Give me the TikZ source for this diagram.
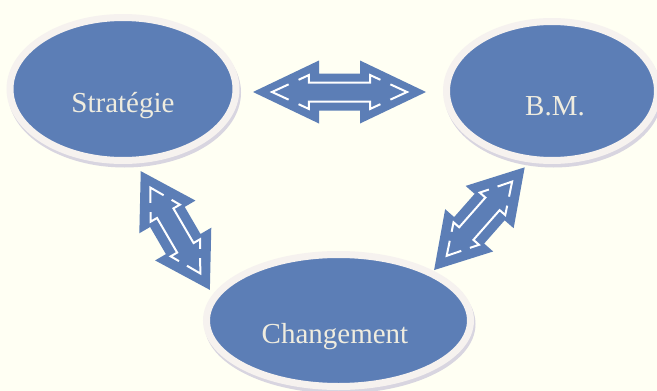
\documentclass[tikz,border=0pt]{standalone}
\usepackage{fontspec}
\setmainfont{Liberation Serif}
\usetikzlibrary{shapes.geometric}
\definecolor{bgcol}{HTML}{FFFFF3}
\definecolor{nodeblue}{HTML}{5C7EB6}
\definecolor{rimcol}{HTML}{F6F2EF}
\definecolor{shadecol}{HTML}{D8D5E0}
\definecolor{txtcol}{HTML}{EFECDF}
\tikzset{
  ovalnode/.style={ellipse, fill=nodeblue, draw=rimcol, line width=7pt, inner sep=0pt,
    preaction={draw=shadecol, fill=shadecol, line width=7pt,
      transform canvas={xshift=1.5pt, yshift=-3.5pt}}},
  lbl/.style={text=txtcol, font=\fontsize{29}{34}\selectfont, inner sep=0pt, anchor=base},
  innerline/.style={draw=white, line width=2pt, line join=miter},
  pics/dblarrow/.style args={#1/#2/#3/#4}{code={
    \fill[nodeblue] (-#1,0) -- (-#1+#2,#3) -- (-#1+#2,#4) -- (#1-#2,#4) -- (#1-#2,#3)
      -- (#1,0) -- (#1-#2,-#3) -- (#1-#2,-#4) -- (-#1+#2,-#4) -- (-#1+#2,-#3) -- cycle;
    \pgfmathsetmacro\aLi{#1-19}
    \pgfmathsetmacro\aHi{0.56*#2}
    \pgfmathsetmacro\aBx{\aLi-\aHi}
    \pgfmathsetmacro\aPx{\aLi-0.45*\aHi}
    \pgfmathsetmacro\aQx{\aLi-0.72*\aHi}
    \draw[innerline] (-\aPx,7.65) -- (-\aLi,0) -- (-\aPx,-7.65);
    \draw[innerline] (\aPx,7.65) -- (\aLi,0) -- (\aPx,-7.65);
    \draw[innerline] (-\aQx,12.2) -- (-\aBx,17) -- (-\aBx,9.5) -- (\aBx,9.5) -- (\aBx,17) -- (\aQx,12.2);
    \draw[innerline] (-\aQx,-12.2) -- (-\aBx,-17) -- (-\aBx,-9.5) -- (\aBx,-9.5) -- (\aBx,-17) -- (\aQx,-12.2);
  }}
}
\begin{document}
\begin{tikzpicture}[x=1pt, y=-1pt]
  \useasboundingbox (0,0) rectangle (657,391);
  \fill[bgcol] (0,0) rectangle (657,391);

  % ellipses
  \node[ovalnode, minimum width=226pt, minimum height=143pt] (strat) at (123,89) {};
  \node[ovalnode, minimum width=211pt, minimum height=139pt] (bm) at (552,91) {};
  \node[ovalnode, minimum width=264pt, minimum height=132pt] (change) at (338.5,320.5) {};

  % labels
  \node[lbl] (tstrat) at (123,112) {Stratégie};
  \node[lbl] (tbm) at (555,115) {B.M.};
  \node[lbl] (tchange) at (335,343) {Changement};

  % block double arrows
  \pic (arrtop) at (339.5,92) {dblarrow=86.5/66/31.5/18.5};
  \pic[rotate=-59.8] (arrleft) at (175.3,230.5) {dblarrow=68.7/53/32.5/20};
  \pic[rotate=48.6] (arrright) at (479.4,218.7) {dblarrow=68.5/53/32/20};
\end{tikzpicture}
\end{document}
